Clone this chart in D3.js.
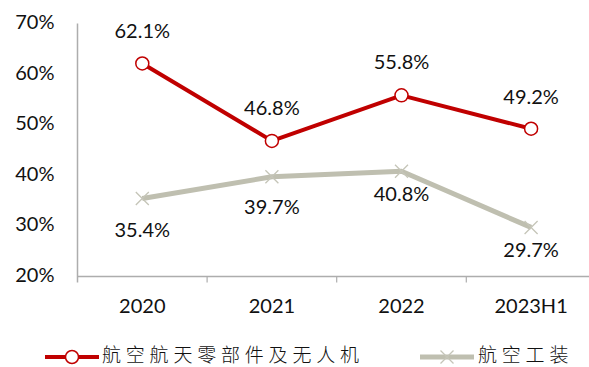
<!DOCTYPE html>
<html>
<head>
<meta charset="utf-8">
<script src="https://cdn.jsdelivr.net/npm/d3@7"></script>
<style>
  html, body { margin: 0; padding: 0; background: #fff; }
  svg { display: block; }
  text { font-family: Lato, "Open Sans", sans-serif; fill: #111; }
  .legend text { font-family: "Noto Sans CJK SC", sans-serif; font-weight: 300; }
</style>
</head>
<body>
<svg id="chart" width="589" height="367"></svg>
<script>
// Categories and series (share of revenue, %)
const categories = ["2020", "2021", "2022", "2023H1"];
const partsValues = [62.1, 46.8, 55.8, 49.2];     // 航空航天零部件及无人机
const toolingValues = [35.4, 39.7, 40.8, 29.7];   // 航空工装
const seriesNames = ["航空航天零部件及无人机", "航空工装"];
const yTicks = [20, 30, 40, 50, 60, 70];

// Label offsets (px) from each point
const partsLabelDy = [-31, -31, -31, -30];
const toolingLabelDy = [33, 32, 25, 25];

const W = 589, H = 367;
const svg = d3.select("#chart");
const plotLeft = 77.5, bandW = 129.6;
const plotTop = 23.5, plotBottom = 276.5;

const x = d3.scaleBand().domain(categories).range([plotLeft, plotLeft + bandW * categories.length]).paddingInner(0).paddingOuter(0);
const y = d3.scaleLinear().domain([20, 70]).range([plotBottom, plotTop]);
const cx = d => x(d) + x.bandwidth() / 2;

const RED = "#C00000", GREY = "#BFBFB0", AXIS = "#ADADAD";
const FS = "20px";

// X axis
const xAxis = svg.append("g").attr("transform", `translate(0,${plotBottom})`)
  .call(d3.axisBottom(x).tickSize(0).tickFormat(d => d));
xAxis.select(".domain").remove();
xAxis.selectAll("text").attr("dy", null).attr("y", 31).attr("dominant-baseline", "middle")
  .style("font-size", FS).style("font-family", "Lato, sans-serif").attr("fill", "#111");
svg.append("line").attr("x1", plotLeft).attr("x2", W).attr("y1", plotBottom).attr("y2", plotBottom)
  .attr("stroke", AXIS).attr("stroke-width", 1.5);
// category boundary ticks
svg.selectAll(".xtick").data(categories.slice(1)).enter().append("line")
  .attr("x1", d => x(d)).attr("x2", d => x(d)).attr("y1", plotBottom).attr("y2", plotBottom + 6)
  .attr("stroke", AXIS).attr("stroke-width", 1.2);

// Y axis
const yAxis = svg.append("g").attr("transform", `translate(${plotLeft},0)`)
  .call(d3.axisLeft(y).tickValues(yTicks).tickSize(0).tickFormat(d => d + "%"));
yAxis.select(".domain").remove();
yAxis.selectAll("text").attr("x", -23).attr("dy", null).attr("dominant-baseline", "middle")
  .style("font-size", FS).style("font-family", "Lato, sans-serif").attr("fill", "#111");
svg.append("line").attr("x1", plotLeft).attr("x2", plotLeft).attr("y1", plotTop).attr("y2", plotBottom + 6)
  .attr("stroke", AXIS).attr("stroke-width", 1.5);

const line = d3.line().x((d, i) => cx(categories[i])).y(d => y(d));

// Tooling series (grey, x markers)
svg.append("path").datum(toolingValues).attr("d", line)
  .attr("fill", "none").attr("stroke", GREY).attr("stroke-width", 5).attr("stroke-linejoin", "round");
const xMark = (g, s) => {
  g.append("path").attr("d", `M${-s},${-s}L${s},${s}M${-s},${s}L${s},${-s}`)
    .attr("stroke", "#C5C5B8").attr("stroke-width", 1.3).attr("fill", "none");
};
toolingValues.forEach((v, i) => {
  const g = svg.append("g").attr("transform", `translate(${cx(categories[i])},${y(v)})`);
  xMark(g, 6.5);
});

// Parts series (red, hollow circles)
svg.append("path").datum(partsValues).attr("d", line)
  .attr("fill", "none").attr("stroke", RED).attr("stroke-width", 4).attr("stroke-linejoin", "round");
svg.selectAll(".pt").data(partsValues).enter().append("circle")
  .attr("cx", (d, i) => cx(categories[i])).attr("cy", d => y(d)).attr("r", 6.5)
  .attr("fill", "#fff").attr("stroke", RED).attr("stroke-width", 1.5);

// Value labels
const lbl = (vals, dys) => svg.append("g").selectAll("text").data(vals).enter().append("text")
  .attr("x", (d, i) => cx(categories[i])).attr("y", (d, i) => y(d) + dys[i])
  .attr("text-anchor", "middle").attr("dominant-baseline", "middle")
  .style("font-size", FS).text(d => d.toFixed(1) + "%");
lbl(partsValues, partsLabelDy);
lbl(toolingValues, toolingLabelDy);

// Legend
const lg = svg.append("g").attr("class", "legend");
const ly = 357, ty = 353;
lg.append("line").attr("x1", 45).attr("x2", 99).attr("y1", ly).attr("y2", ly)
  .attr("stroke", RED).attr("stroke-width", 4);
lg.append("circle").attr("cx", 72).attr("cy", ly).attr("r", 6.5)
  .attr("fill", "#fff").attr("stroke", RED).attr("stroke-width", 1.5);
lg.append("text").attr("x", 102).attr("y", ty).attr("dominant-baseline", "central")
  .style("font-size", "19px").style("letter-spacing", "4.8px").text(seriesNames[0]);
lg.append("line").attr("x1", 420).attr("x2", 474).attr("y1", ly).attr("y2", ly)
  .attr("stroke", GREY).attr("stroke-width", 5);
xMark(lg.append("g").attr("transform", `translate(447,${ly})`), 6.5);
lg.append("text").attr("x", 478).attr("y", ty).attr("dominant-baseline", "central")
  .style("font-size", "19px").style("letter-spacing", "4.8px").text(seriesNames[1]);
</script>
</body>
</html>
